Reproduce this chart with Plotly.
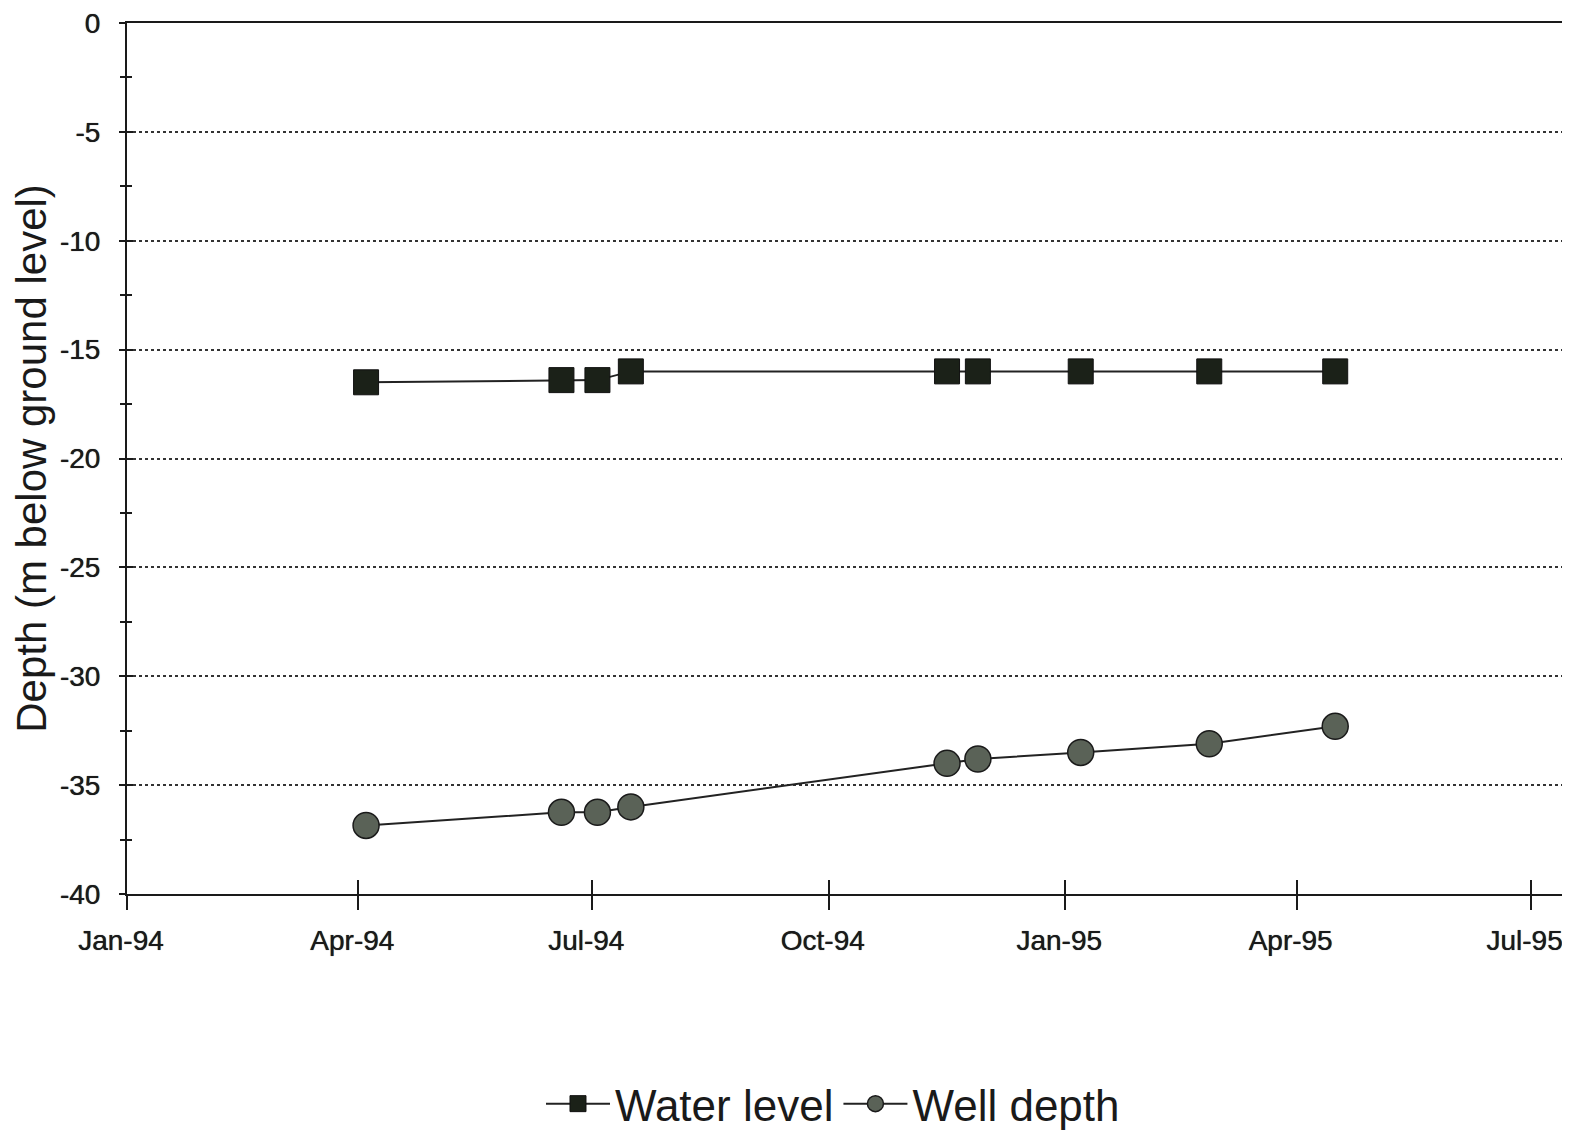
import plotly.graph_objects as go

# ---- data ----
dates = ["1994-04-04", "1994-06-19", "1994-07-03", "1994-07-16",
         "1994-11-16", "1994-11-28", "1995-01-07", "1995-02-26", "1995-04-16"]
water_level = [-16.5, -16.4, -16.4, -16.0, -16.0, -16.0, -16.0, -16.0, -16.0]
well_depth = [-36.85, -36.25, -36.25, -36.0, -34.0, -33.8, -33.5, -33.1, -32.3]

y_tick_vals = [0, -5, -10, -15, -20, -25, -30, -35, -40]
y_tick_text = ["0", "-5", "-10", "-15", "-20", "-25", "-30", "-35", "-40"]
x_tick_vals = ["1994-01-01", "1994-04-01", "1994-07-01", "1994-10-01",
               "1995-01-01", "1995-04-01", "1995-07-01"]
x_tick_text = ["Jan-94", "Apr-94", "Jul-94", "Oct-94", "Jan-95", "Apr-95", "Jul-95"]
x_range = ["1994-01-01", "1995-07-14"]
y_range = [-40, 0]

FONT = "Liberation Sans, Arial, sans-serif"
INK = "#1a1a1a"
SHADOW = "0 0 0.7px #1a1a1a"

fig = go.Figure()
fig.add_trace(go.Scatter(
    x=dates, y=water_level, name="Water level", mode="lines+markers",
    line=dict(color="#222", width=2),
    marker=dict(symbol="square", size=25, color="#1b2118",
                line=dict(color="#111", width=1)),
))
fig.add_trace(go.Scatter(
    x=dates, y=well_depth, name="Well depth", mode="lines+markers",
    line=dict(color="#222", width=2),
    marker=dict(symbol="circle", size=26, color="#5a6257",
                line=dict(color="#1a1a1a", width=1.5)),
))
# invisible helper trace so the overlay axes (inner half of crossing ticks) render
fig.add_trace(go.Scatter(
    x=dates, y=water_level, xaxis="x2", yaxis="y2", mode="markers",
    marker=dict(opacity=0), showlegend=False, hoverinfo="skip",
))

fig.update_layout(
    width=1562, height=1123,
    margin=dict(l=119, r=6, t=15, b=237),
    paper_bgcolor="white", plot_bgcolor="white",
    font=dict(family=FONT, color=INK),
    showlegend=True,
    legend=dict(
        orientation="h", x=0.4913, xanchor="center",
        yref="container", y=0.024, yanchor="middle",
        font=dict(size=44, family=FONT, color=INK),
        itemwidth=64, bgcolor="rgba(0,0,0,0)",
    ),
    xaxis=dict(
        type="date", range=x_range, tickvals=x_tick_vals, ticktext=x_tick_text,
        automargin=False, ticklabeloverflow="allow",
        showgrid=False, zeroline=False,
        showline=True, linecolor=INK, linewidth=2, mirror=True,
        ticks="outside", ticklen=14, tickwidth=2, tickcolor=INK,
        tickfont=dict(size=28, family=FONT, color=INK, shadow=SHADOW),
        ticklabelstandoff=6, ticklabelshift=-6,
    ),
    yaxis=dict(
        range=y_range, tickvals=y_tick_vals, ticktext=y_tick_text,
        automargin=False, ticklabeloverflow="allow",
        showgrid=True, gridcolor="#333", griddash="dot", gridwidth=1.5,
        zeroline=False,
        showline=True, linecolor=INK, linewidth=2, mirror=True,
        ticks="outside", ticklen=6, tickwidth=2, tickcolor=INK,
        minor=dict(dtick=2.5, tick0=0, ticks="outside", ticklen=5,
                   tickwidth=2, tickcolor=INK, showgrid=False),
        tickfont=dict(size=28, family=FONT, color=INK, shadow=SHADOW),
        ticklabelstandoff=13,
        title=dict(text="Depth (m below ground level)",
                   font=dict(size=42, family=FONT, color=INK), standoff=0),
    ),
    xaxis2=dict(
        type="date", overlaying="x", matches="x", anchor="y2", side="bottom",
        range=x_range, tickvals=x_tick_vals, showticklabels=False,
        automargin=False,
        showgrid=False, zeroline=False, showline=False,
        ticks="inside", ticklen=14, tickwidth=2, tickcolor=INK,
    ),
    yaxis2=dict(
        overlaying="y", matches="y", anchor="x2", side="left",
        range=y_range, tickvals=y_tick_vals, showticklabels=False,
        automargin=False,
        showgrid=False, zeroline=False, showline=False,
        ticks="inside", ticklen=6, tickwidth=2, tickcolor=INK,
        minor=dict(dtick=2.5, tick0=0, ticks="inside", ticklen=5,
                   tickwidth=2, tickcolor=INK, showgrid=False),
    ),
)

fig.write_html("out.html")
